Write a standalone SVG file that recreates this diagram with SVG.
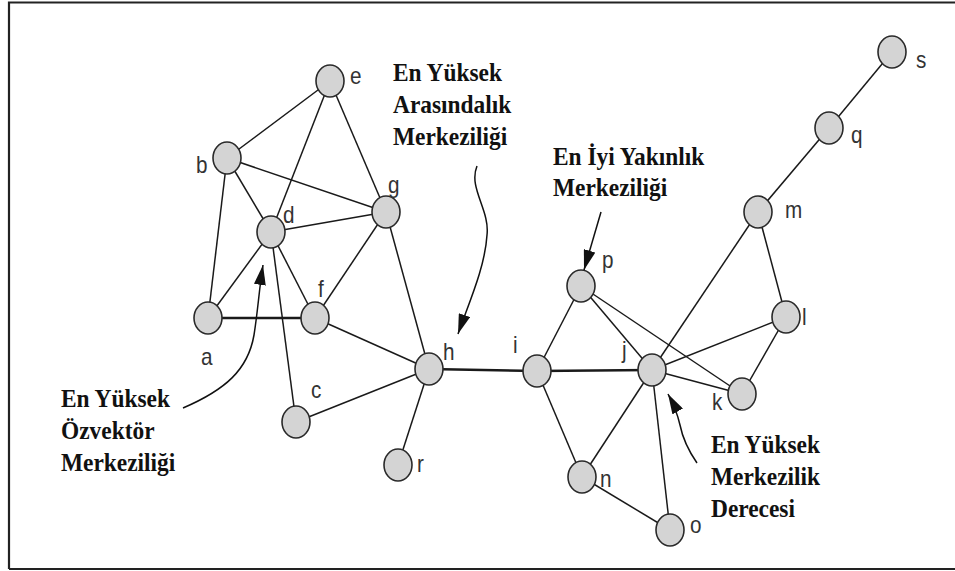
<svg xmlns="http://www.w3.org/2000/svg" width="955" height="571" viewBox="0 0 955 571">
<style>
.n{fill:#d4d4d4;stroke:#2a2a2a;stroke-width:1.6}
.lb{font-family:"Liberation Sans",Arial,sans-serif;font-size:23px;fill:#333}
.e{stroke:#1a1a1a;stroke-width:1.5;fill:none}
.t{stroke:#1a1a1a;stroke-width:2.6;fill:none}
.an{font-family:"Liberation Serif","Times New Roman",serif;font-weight:bold;font-size:26px;fill:#111}
.ar{stroke:#111;stroke-width:1.5;fill:none;marker-end:url(#ah)}
</style>
<defs>
<marker id="ah" markerUnits="userSpaceOnUse" markerWidth="22" markerHeight="12" refX="20" refY="6" orient="auto"><path d="M0,0 L20,6 L0,12 z" fill="#111"/></marker>
</defs>
<rect width="955" height="571" fill="#fff"/>
<path d="M9,569 V2.5 H955 M9,569 H955" fill="none" stroke="#222" stroke-width="2.2"/>
<g id="connectors">
<line class="e" x1="330" y1="81" x2="227" y2="158"/>
<line class="e" x1="330" y1="81" x2="271" y2="232"/>
<line class="e" x1="330" y1="81" x2="386" y2="212"/>
<line class="e" x1="227" y1="158" x2="271" y2="232"/>
<line class="e" x1="227" y1="158" x2="386" y2="212"/>
<line class="e" x1="227" y1="158" x2="208" y2="318"/>
<line class="e" x1="271" y1="232" x2="386" y2="212"/>
<line class="e" x1="271" y1="232" x2="208" y2="318"/>
<line class="e" x1="271" y1="232" x2="315" y2="318"/>
<line class="e" x1="271" y1="232" x2="296" y2="422"/>
<line class="t" x1="208" y1="318" x2="315" y2="318"/>
<line class="e" x1="386" y1="212" x2="315" y2="318"/>
<line class="e" x1="386" y1="212" x2="429" y2="369"/>
<line class="e" x1="315" y1="318" x2="429" y2="369"/>
<line class="e" x1="429" y1="369" x2="296" y2="422"/>
<line class="e" x1="429" y1="369" x2="398" y2="465"/>
<line class="t" x1="429" y1="369" x2="537" y2="371"/>
<line class="t" x1="537" y1="371" x2="652" y2="370"/>
<line class="e" x1="537" y1="371" x2="581" y2="286"/>
<line class="e" x1="537" y1="371" x2="582" y2="477"/>
<line class="e" x1="581" y1="286" x2="652" y2="370"/>
<line class="e" x1="581" y1="286" x2="742" y2="394"/>
<line class="e" x1="652" y1="370" x2="758" y2="212"/>
<line class="e" x1="652" y1="370" x2="786" y2="317"/>
<line class="e" x1="652" y1="370" x2="742" y2="394"/>
<line class="e" x1="652" y1="370" x2="582" y2="477"/>
<line class="e" x1="652" y1="370" x2="670" y2="530"/>
<line class="e" x1="582" y1="477" x2="670" y2="530"/>
<line class="e" x1="758" y1="212" x2="786" y2="317"/>
<line class="e" x1="786" y1="317" x2="742" y2="394"/>
<line class="e" x1="758" y1="212" x2="829" y2="128"/>
<line class="e" x1="829" y1="128" x2="892" y2="52"/>
</g>
<g id="node-e"><ellipse class="n" cx="330" cy="81" rx="14" ry="16"/><text class="lb" transform="translate(350,84) scale(0.9,1)">e</text></g>
<g id="node-b"><ellipse class="n" cx="227" cy="158" rx="14" ry="16"/><text class="lb" transform="translate(196,173) scale(0.9,1)">b</text></g>
<g id="node-g"><ellipse class="n" cx="386" cy="212" rx="14" ry="16"/><text class="lb" transform="translate(388,193) scale(0.9,1)">g</text></g>
<g id="node-d"><ellipse class="n" cx="271" cy="232" rx="14" ry="16"/><text class="lb" transform="translate(283,223) scale(0.9,1)">d</text></g>
<g id="node-a"><ellipse class="n" cx="208" cy="318" rx="14" ry="16"/><text class="lb" transform="translate(201,365) scale(0.9,1)">a</text></g>
<g id="node-f"><ellipse class="n" cx="315" cy="318" rx="14" ry="16"/><text class="lb" transform="translate(318,297) scale(0.9,1)">f</text></g>
<g id="node-h"><ellipse class="n" cx="429" cy="369" rx="14" ry="16"/><text class="lb" transform="translate(443,360) scale(0.9,1)">h</text></g>
<g id="node-c"><ellipse class="n" cx="296" cy="422" rx="14" ry="16"/><text class="lb" transform="translate(311,398) scale(0.9,1)">c</text></g>
<g id="node-r"><ellipse class="n" cx="398" cy="465" rx="14" ry="16"/><text class="lb" transform="translate(417,472) scale(0.9,1)">r</text></g>
<g id="node-i"><ellipse class="n" cx="537" cy="371" rx="14" ry="16"/><text class="lb" transform="translate(513,353) scale(0.9,1)">i</text></g>
<g id="node-j"><ellipse class="n" cx="652" cy="370" rx="14" ry="16"/><text class="lb" transform="translate(622,358) scale(0.9,1)">j</text></g>
<g id="node-p"><ellipse class="n" cx="581" cy="286" rx="14" ry="16"/><text class="lb" transform="translate(602,268) scale(0.9,1)">p</text></g>
<g id="node-l"><ellipse class="n" cx="786" cy="317" rx="14" ry="16"/><text class="lb" transform="translate(802,325) scale(0.9,1)">l</text></g>
<g id="node-k"><ellipse class="n" cx="742" cy="394" rx="14" ry="16"/><text class="lb" transform="translate(712,410) scale(0.9,1)">k</text></g>
<g id="node-m"><ellipse class="n" cx="758" cy="212" rx="14" ry="16"/><text class="lb" transform="translate(785,218) scale(0.9,1)">m</text></g>
<g id="node-q"><ellipse class="n" cx="829" cy="128" rx="14" ry="16"/><text class="lb" transform="translate(851,143) scale(0.9,1)">q</text></g>
<g id="node-s"><ellipse class="n" cx="892" cy="52" rx="14" ry="16"/><text class="lb" transform="translate(916,68) scale(0.9,1)">s</text></g>
<g id="node-n"><ellipse class="n" cx="582" cy="477" rx="14" ry="16"/><text class="lb" transform="translate(600,487) scale(0.9,1)">n</text></g>
<g id="node-o"><ellipse class="n" cx="670" cy="530" rx="14" ry="16"/><text class="lb" transform="translate(690,533) scale(0.9,1)">o</text></g>
<g id="annotations">
<path class="ar" d="M477,166 C468,188 490,210 487,235 C485,268 468,305 458,334"/>
<path class="ar" d="M601,212 L584,270"/>
<path class="ar" d="M183,408 C225,390 248,370 254,335 C258,310 259,290 263,265"/>
<path class="ar" d="M697,463 C688,450 683,440 680,425 C677,412 673,403 668,394"/>
<text class="an" transform="translate(393,81) scale(0.9,1)"><tspan x="0" y="0">En Yüksek</tspan><tspan x="0" y="32">Arasındalık</tspan><tspan x="0" y="64">Merkeziliği</tspan></text>
<text class="an" transform="translate(553,165) scale(0.9,1)"><tspan x="0" y="0">En İyi Yakınlık</tspan><tspan x="0" y="31">Merkeziliği</tspan></text>
<text class="an" transform="translate(61,407) scale(0.9,1)"><tspan x="0" y="0">En Yüksek</tspan><tspan x="0" y="32">Özvektör</tspan><tspan x="0" y="64">Merkeziliği</tspan></text>
<text class="an" transform="translate(711,453) scale(0.9,1)"><tspan x="0" y="0">En Yüksek</tspan><tspan x="0" y="32">Merkezilik</tspan><tspan x="0" y="64">Derecesi</tspan></text>
</g>
</svg>
